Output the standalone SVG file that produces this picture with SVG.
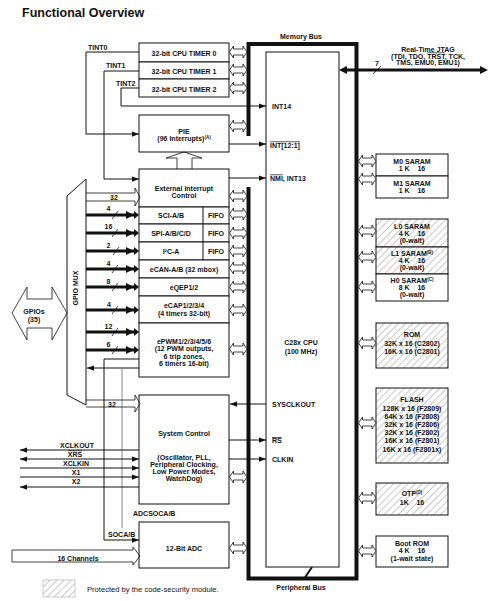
<svg xmlns="http://www.w3.org/2000/svg" width="488" height="601" viewBox="0 0 488 601">
<defs>
<style>
text{font-family:"Liberation Sans",Arial,sans-serif;font-size:7px;font-weight:bold;fill:#111}
.c{text-anchor:middle}
.t{font-size:12.5px}
.r{font-weight:normal;font-size:7.6px}
.sup{font-size:4.5px}
.box{fill:#fff;stroke:#111;stroke-width:1}
.hb{fill:url(#hatch);stroke:#111;stroke-width:1}
.ln{fill:none;stroke:#111;stroke-width:1}
.gl{fill:none;stroke:#888;stroke-width:1}
.tk{fill:none;stroke:#111;stroke-width:3}
.bus{fill:none;stroke:#111;stroke-width:4}
.da{fill:#fff;stroke:#111;stroke-width:0.8}
.ho{fill:none;stroke:#111;stroke-width:0.8}
.ol{text-decoration:overline}
</style>
<pattern id="hatch" patternUnits="userSpaceOnUse" width="5" height="5" patternTransform="rotate(45)"><rect width="5" height="5" fill="#fff"/><line x1="0" y1="0" x2="0" y2="5" stroke="#9a9a9a" stroke-width="1.1"/></pattern>
<path id="da" d="M0,0 l4,-6 v3 h9.5 v-3 l4,6 l-4,6 v-3 h-9.5 v3 z"/>
<marker id="ah" viewBox="0 0 8 6" refX="8" refY="3" markerWidth="7" markerHeight="5.5" markerUnits="userSpaceOnUse" orient="auto-start-reverse"><path d="M0,0 L8,3 L0,6 z" fill="#111"/></marker>
<marker id="ahT" viewBox="0 0 8 8" refX="8" refY="4" markerWidth="8" markerHeight="8" markerUnits="userSpaceOnUse" orient="auto-start-reverse"><path d="M0,0 L8,4 L0,8 z" fill="#111"/></marker>
</defs>
<rect width="488" height="601" fill="#fff"/>
<text x="22" y="17" class="t">Functional Overview</text>

<g id="bus">
<path class="bus" d="M248.5,136 V44 H356.5 V578.5 H248.5 V187"/>
<text x="301" y="39" class="c">Memory Bus</text>
<line x1="312" y1="567" x2="304" y2="579" stroke="#111" stroke-width="2"/>
<text x="301" y="590" class="c">Peripheral Bus</text>
</g>

<g id="cpu">
<rect class="box" x="266" y="52" width="73" height="515"/>
<text x="272" y="108.5">INT14</text>
<text x="270" y="147.5" class="ol">INT[12:1]</text>
<text x="270" y="180.5"><tspan class="ol">NMI</tspan>, INT13</text>
<text x="301" y="345" class="c">C28x CPU</text>
<text x="301" y="354" class="c">(100 MHz)</text>
<text x="272" y="407">SYSCLKOUT</text>
<text x="272" y="443" class="ol">RS</text>
<text x="272" y="461.5">CLKIN</text>
</g>

<g id="timers">
<rect class="box" x="139" y="43" width="90" height="19"/>
<rect class="box" x="139" y="62" width="90" height="17"/>
<rect class="box" x="139" y="79" width="90" height="18"/>
<text x="184" y="55.5" class="c">32-bit CPU TIMER 0</text>
<text x="184" y="74" class="c">32-bit CPU TIMER 1</text>
<text x="184" y="91.5" class="c">32-bit CPU TIMER 2</text>
<text x="88" y="50">TINT0</text>
<text x="106" y="67.5">TINT1</text>
<text x="116" y="85.5">TINT2</text>
</g>

<g id="pie">
<rect class="box" x="139" y="115" width="90" height="37"/>
<text x="184" y="134" class="c">PIE</text>
<text x="184" y="141" class="c">(96 Interrupts)<tspan class="sup" dy="-2">(A)</tspan></text>
</g>

<g id="extint">
<rect class="box" x="139" y="169" width="90" height="38"/>
<text x="184" y="190.5" class="c">External Interrupt</text>
<text x="184" y="197.5" class="c">Control</text>
</g>

<g id="periph">
<rect class="box" x="139" y="207" width="90" height="17"/>
<rect class="box" x="139" y="224" width="90" height="18"/>
<rect class="box" x="139" y="242" width="90" height="18"/>
<line class="ln" x1="203" y1="207" x2="203" y2="260"/>
<text x="171" y="218" class="c">SCI-A/B</text>
<text x="171" y="236" class="c">SPI-A/B/C/D</text>
<text x="171" y="254" class="c">I²C-A</text>
<text x="216" y="218" class="c">FIFO</text>
<text x="216" y="236" class="c">FIFO</text>
<text x="216" y="254" class="c">FIFO</text>
<rect class="box" x="139" y="260" width="90" height="18"/>
<text x="184" y="271.5" class="c">eCAN-A/B (32 mbox)</text>
<rect class="box" x="139" y="278" width="90" height="18"/>
<text x="184" y="289.5" class="c">eQEP1/2</text>
<rect class="box" x="139" y="296" width="90" height="27"/>
<text x="184" y="308" class="c">eCAP1/2/3/4</text>
<text x="184" y="315.5" class="c">(4 timers 32-bit)</text>
<rect class="box" x="139" y="323" width="90" height="54"/>
<text x="184" y="344" class="c">ePWM1/2/3/4/5/6</text>
<text x="184" y="351" class="c">(12 PWM outputs,</text>
<text x="184" y="358.5" class="c">6 trip zones,</text>
<text x="184" y="366" class="c">6 timers 16-bit)</text>
</g>

<g id="sysctrl">
<rect class="box" x="139" y="395" width="90" height="109"/>
<text x="184" y="435.5" class="c">System Control</text>
<text x="184" y="460" class="c">(Oscillator, PLL,</text>
<text x="184" y="467" class="c">Peripheral Clocking,</text>
<text x="184" y="474" class="c">Low Power Modes,</text>
<text x="184" y="481" class="c">WatchDog)</text>
</g>

<g id="adc">
<rect class="box" x="139" y="522" width="90" height="46"/>
<text x="184" y="550.5" class="c">12-Bit ADC</text>
</g>

<g id="gpio">
<path class="ln" d="M86,179 L67,196 V395 L86,405"/>
<line class="ln" x1="86" y1="179" x2="86" y2="405"/>
<text transform="translate(77.5,288) rotate(-90)" class="c">GPIO MUX</text>
<path class="ho" d="M12,313 L27,287 V299 H52 V287 L67,313 L52,340 V328 H27 V340 Z"/>
<text x="34" y="313.5" class="c">GPIOs</text>
<text x="34" y="321.5" class="c">(35)</text>
</g>

<g id="m0"><rect class="box" x="376" y="154" width="72" height="22"/><text x="412" y="163.5" class="c">M0 SARAM</text><text x="412" y="171" class="c" xml:space="preserve">1 K    16</text></g>
<g id="m1"><rect class="box" x="376" y="176" width="72" height="22"/><text x="412" y="185.5" class="c">M1 SARAM</text><text x="412" y="193" class="c" xml:space="preserve">1 K    16</text></g>
<g id="l0"><rect class="hb" x="376" y="219" width="72" height="28"/><text x="412" y="228.5" class="c">L0 SARAM</text><text x="412" y="235.5" class="c" xml:space="preserve">4 K    16</text><text x="412" y="242.5" class="c">(0-wait)</text></g>
<g id="l1"><rect class="hb" x="376" y="247" width="72" height="27"/><text x="412" y="255.5" class="c">L1 SARAM<tspan class="sup" dy="-2">(B)</tspan></text><text x="412" y="262.5" class="c" xml:space="preserve">4 K    16</text><text x="412" y="269.5" class="c">(0-wait)</text></g>
<g id="h0"><rect class="box" x="376" y="274" width="72" height="27"/><text x="412" y="282.5" class="c">H0 SARAM<tspan class="sup" dy="-2">(C)</tspan></text><text x="412" y="289.5" class="c" xml:space="preserve">8 K    16</text><text x="412" y="296.5" class="c">(0-wait)</text></g>
<g id="rom"><rect class="hb" x="376" y="323" width="72" height="45"/><text x="412" y="336.5" class="c">ROM</text><text x="412" y="345.5" class="c">32K x 16 (C2802)</text><text x="412" y="354" class="c">16K x 16 (C2801)</text></g>
<g id="flash"><rect class="hb" x="376" y="388" width="72" height="75"/><text x="412" y="401.5" class="c">FLASH</text><text x="412" y="411" class="c">128K x 16 (F2809)</text><text x="412" y="419" class="c">64K x 16 (F2808)</text><text x="412" y="427" class="c">32K x 16 (F2806)</text><text x="412" y="435" class="c">32K x 16 (F2802)</text><text x="412" y="443" class="c">16K x 16 (F2801)</text><text x="412" y="451.5" class="c">16K x 16 (F2801x)</text></g>
<g id="otp"><rect class="hb" x="376" y="483" width="72" height="32"/><text x="412" y="496" class="c">OTP<tspan class="sup" dy="-2">(D)</tspan></text><text x="412" y="504.5" class="c" xml:space="preserve">1K    16</text></g>
<g id="bootrom"><rect class="box" x="376" y="536" width="72" height="31"/><text x="412" y="545.5" class="c">Boot ROM</text><text x="412" y="553" class="c" xml:space="preserve">4 K    16</text><text x="412" y="560.5" class="c">(1-wait state)</text></g>

<g id="jtag">
<text x="428" y="51.5" class="c">Real-Time JTAG</text>
<text x="428" y="58.5" class="c">(TDI, TDO, <tspan class="ol">TRST</tspan>, TCK,</text>
<text x="428" y="65" class="c">TMS, EMU0, EMU1)</text>
</g>

<g id="legend">
<rect x="43" y="580" width="32" height="17" fill="url(#hatch)" stroke="#bbb" stroke-width="0.8"/>
<text x="87" y="592" class="r">Protected by the code-security module.</text>
</g>

<g id="connectors">
<use href="#da" class="da" x="229.5" y="52"/>
<use href="#da" class="da" x="229.5" y="70"/>
<use href="#da" class="da" x="229.5" y="88"/>
<use href="#da" class="da" x="229.5" y="126"/>
<use href="#da" class="da" x="229.5" y="196"/>
<use href="#da" class="da" x="229.5" y="214"/>
<use href="#da" class="da" x="229.5" y="233"/>
<use href="#da" class="da" x="229.5" y="251"/>
<use href="#da" class="da" x="229.5" y="268"/>
<use href="#da" class="da" x="229.5" y="287"/>
<use href="#da" class="da" x="229.5" y="310"/>
<use href="#da" class="da" x="229.5" y="349"/>
<use href="#da" class="da" x="229.5" y="477"/>
<use href="#da" class="da" x="229.5" y="548"/>
<use href="#da" class="da" x="358.5" y="161"/>
<use href="#da" class="da" x="358.5" y="179"/>
<use href="#da" class="da" x="358.5" y="231"/>
<use href="#da" class="da" x="358.5" y="257"/>
<use href="#da" class="da" x="358.5" y="287"/>
<use href="#da" class="da" x="358.5" y="343"/>
<use href="#da" class="da" x="358.5" y="423"/>
<use href="#da" class="da" x="358.5" y="498"/>
<use href="#da" class="da" x="358.5" y="551"/>

<path class="ln" d="M139,52 H86 V134 H139" marker-end="url(#ah)"/>
<path class="ln" d="M139,71 H104 V179 H139" marker-end="url(#ah)"/>
<path class="ln" d="M139,88 H121 V106 H266" marker-end="url(#ah)"/>
<path class="ln" d="M229,144 H266" marker-end="url(#ah)"/>
<path class="ln" d="M229,178 H266" marker-end="url(#ah)"/>
<path class="ho" d="M177,169 V158 H166 L184,152 L202,158 H192 V169"/>

<path class="ho" d="M86,193 H135 V188 L140,197 L135,206 V201 H86"/>
<text x="110" y="200" font-size="6.5">32</text>

<path class="tk" d="M86,215 H134" marker-end="url(#ahT)"/>
<path class="tk" d="M86,233 H134" marker-end="url(#ahT)"/>
<path class="tk" d="M86,251 H134" marker-end="url(#ahT)"/>
<path class="tk" d="M86,269 H134" marker-end="url(#ahT)"/>
<path class="tk" d="M86,287 H134" marker-end="url(#ahT)"/>
<path class="tk" d="M86,310 H134" marker-end="url(#ahT)"/>
<path class="tk" d="M86,332 H134" marker-end="url(#ahT)"/>
<path class="tk" d="M86,350 H134" marker-end="url(#ahT)"/>
<path d="M134,211 L139,215 L134,219 Z M134,229 L139,233 L134,237 Z M134,247 L139,251 L134,255 Z M134,265 L139,269 L134,273 Z M134,283 L139,287 L134,291 Z M134,306 L139,310 L134,314 Z M134,328 L139,332 L134,336 Z M134,346 L139,350 L134,354 Z" fill="#111"/>
<g stroke="#111" stroke-width="0.8">
<line x1="112" y1="219" x2="118" y2="211"/>
<line x1="112" y1="237" x2="118" y2="229"/>
<line x1="113" y1="255" x2="119" y2="247"/>
<line x1="112" y1="273" x2="118" y2="265"/>
<line x1="112" y1="291" x2="118" y2="283"/>
<line x1="112" y1="314" x2="118" y2="306"/>
<line x1="112" y1="336" x2="118" y2="328"/>
<line x1="112" y1="354" x2="118" y2="346"/>
</g>
<text x="106.5" y="211">4</text>
<text x="104.5" y="229">16</text>
<text x="106.5" y="247.5">2</text>
<text x="106.5" y="265.5">4</text>
<text x="106.5" y="283.5">8</text>
<text x="107" y="306.5">4</text>
<text x="104.5" y="328.5">12</text>
<text x="106.5" y="346.5">6</text>

<path class="ln" d="M139,368 H87" marker-end="url(#ah)"/>
<path class="ln" d="M139,359 H104 V540 H139" marker-end="url(#ah)"/>
<path class="gl" d="M122,368 V528"/>
<text x="133" y="515.5">ADCSOCA/B</text>
<text x="108" y="536.5">SOCA/B</text>

<path class="ho" d="M86,400 H135 V395 L140,403.5 L135,412 V407 H86"/>
<text x="108" y="406.5" font-size="6.5">32</text>

<path class="ln" d="M266,404 H230" marker-end="url(#ah)"/>
<path class="ln" d="M229,440 H266" marker-end="url(#ah)"/>
<path class="ln" d="M229,459 H266" marker-end="url(#ah)"/>

<path class="ln" d="M139,450 H20" marker-end="url(#ah)"/>
<path class="ln" d="M20,459 H139" marker-start="url(#ah)" marker-end="url(#ah)"/>
<path class="ln" d="M20,468 H139" marker-end="url(#ah)"/>
<path class="ln" d="M20,477 H139" marker-end="url(#ah)"/>
<path class="ln" d="M139,487 H20" marker-end="url(#ah)"/>
<text x="77" y="447.5" class="c">XCLKOUT</text>
<text x="75" y="456.5" class="c ol">XRS</text>
<text x="76" y="465.5" class="c">XCLKIN</text>
<text x="76" y="474.5" class="c">X1</text>
<text x="76" y="484" class="c">X2</text>

<path class="ho" d="M12,550 H133 V547 L140,556 L133,565 V562 H12 Z"/>
<text x="78" y="561" class="c">16 Channels</text>

<path class="tk" d="M347,70 H480"/>
<path d="M339,70 L347,66 L347,74 Z M488,70 L480,66 L480,74 Z" fill="#111"/>
<line x1="373" y1="74" x2="381" y2="66" stroke="#111" stroke-width="0.8"/>
<text x="375" y="66">7</text>
</g>
</svg>
